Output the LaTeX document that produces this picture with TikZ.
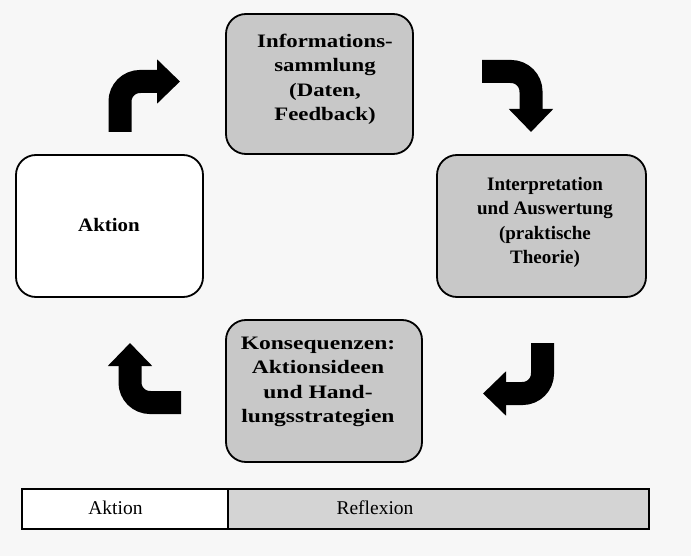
\documentclass[tikz,border=0pt]{standalone}
\usepackage{fontspec}
\usepackage{graphicx}
\setmainfont{Liberation Serif}
\usetikzlibrary{arrows.meta}
\definecolor{boxgray}{RGB}{200,200,200}
\definecolor{stripgray}{RGB}{212,212,212}
\definecolor{paper}{RGB}{247,247,247}
% stretched bold lines inside a box
\newcommand{\widelines}[2]{\scalebox{#1}[1]{\begin{tabular}{@{}c@{}}#2\end{tabular}}}
\tikzset{
  stage/.style={draw=black, line width=1.8pt, rounded corners=20pt, fill=boxgray, inner sep=0pt},
  stagetext/.style={font=\fontsize{19}{24.5}\selectfont\bfseries, inner sep=0pt},
  bigarrow/.style={line width=23pt, rounded corners=20pt, -{Triangle[length=23pt,width=43pt]}},
  cell/.style={draw=black, line width=1.2pt, inner sep=0pt},
  celltext/.style={font=\fontsize{19.5}{22}\selectfont, inner sep=0pt}
}
\begin{document}
\begin{tikzpicture}[x=1pt,y=1pt,yscale=-1,xscale=1]
\useasboundingbox [fill=paper] (0,0) rectangle (691,556);

%Shape: Rounded Rectangle [id:info]
\node [stage, minimum width=187pt, minimum height=140pt] (info) at (319.5,84) {};
\node [stagetext] (infotext) at (325,79) {\widelines{1.2}{Informations-\\sammlung\\(Daten,\\Feedback)}};
%Shape: Rounded Rectangle [id:interp]
\node [stage, minimum width=209pt, minimum height=142pt] (interp) at (541.5,226) {};
\node [stagetext] (interptext) at (545,222) {\widelines{1.0}{Interpretation\\und Auswertung\\(praktische\\Theorie)}};
%Shape: Rounded Rectangle [id:aktion]
\node [stage, fill=white, minimum width=187pt, minimum height=142pt] (aktion) at (109.5,226) {};
\node [stagetext] (aktiontext) at (109,227) {\widelines{1.1}{Aktion}};
%Shape: Rounded Rectangle [id:konseq]
\node [stage, minimum width=196pt, minimum height=142pt] (konseq) at (324,391) {};
\node [stagetext] (konseqtext) at (318,381) {\widelines{1.24}{Konsequenzen:\\Aktionsideen\\und Hand-\\lungsstrategien}};

%Bent Arrows
\coordinate (a1s) at (120,132);
\coordinate (a1e) at (180,81.5);
\draw [bigarrow] (a1s) |- (a1e);
\coordinate (a2s) at (482,71.5);
\coordinate (a2e) at (531,132);
\draw [bigarrow] (a2s) -| (a2e);
\coordinate (a3s) at (542.5,343);
\coordinate (a3e) at (483,393.5);
\draw [bigarrow] (a3s) |- (a3e);
\coordinate (a4s) at (181,402.5);
\coordinate (a4e) at (130,343);
\draw [bigarrow] (a4s) -| (a4e);

%Shape: Bar [id:strip]
\draw [cell, fill=white] (22,489) rectangle (228,529);
\draw [cell, fill=stripgray] (228,489) rectangle (649,529);
% Text Node
\node [celltext] (lblaktion) at (115.5,508) {Aktion};
% Text Node
\node [celltext] (lblreflex) at (375,508) {Reflexion};

\end{tikzpicture}
\end{document}
